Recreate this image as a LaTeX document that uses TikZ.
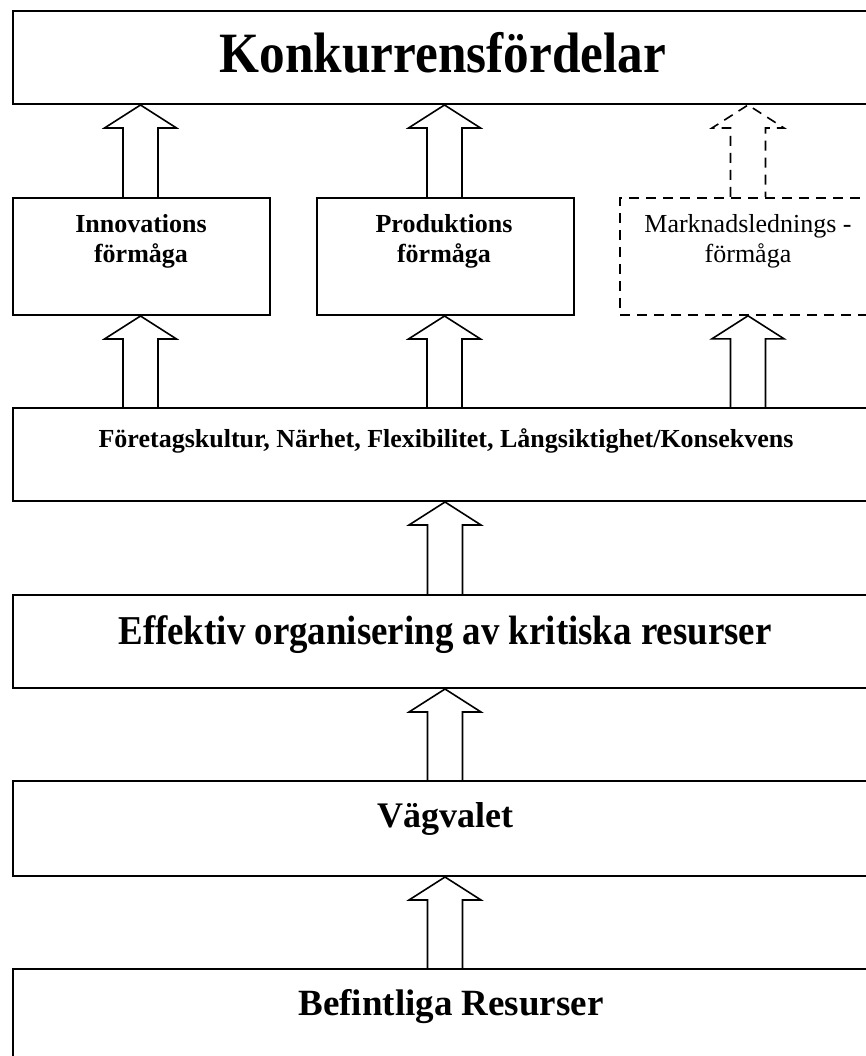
\documentclass[tikz,border=0pt]{standalone}
\usepackage{fontspec}
\setmainfont{Liberation Serif}
\newfontfamily\condfont[FakeStretch=0.9]{Liberation Serif}
\usetikzlibrary{calc}
\tikzset{
  box/.style={draw, line width=2pt, rectangle, inner sep=0pt, anchor=north west},
  dbox/.style={box, line width=1.8pt, dash pattern=on 10pt off 7pt},
  barrow/.style={draw, line width=1.6pt, line join=miter},
  dbarrow/.style={barrow, dash pattern=on 10pt off 7pt},
  lbl/.style={anchor=base, inner sep=0pt},
  small/.style={lbl, align=center, font=\fontsize{26}{29}\selectfont},
}
\newcommand\uparrowblock[4]{%
  \draw[#1] ($(#2 |- #3.north)+(-17.5,0)$) -- ($(#2 |- #4.south)+(-17.5,23)$)
    -- ($(#2 |- #4.south)+(-36,23)$) -- (#2 |- #4.south)
    -- ($(#2 |- #4.south)+(36,23)$) -- ($(#2 |- #4.south)+(17.5,23)$)
    -- ($(#2 |- #3.north)+(17.5,0)$);}
\begin{document}
\begin{tikzpicture}[x=1pt,y=-1pt]
\useasboundingbox (0,0) rectangle (866,1056);
\clip (0,0) rectangle (866,1056);
% boxes
\node[box, minimum width=864pt, minimum height=93pt] (konk) at (12,10) {};
\node[box, minimum width=257pt, minimum height=117pt] (inn) at (12,197) {};
\node[box, minimum width=257pt, minimum height=117pt] (prod) at (316,197) {};
\node[dbox, minimum width=257pt, minimum height=117pt] (mark) at (619,197) {};
\node[box, minimum width=864pt, minimum height=93pt] (fore) at (12,407) {};
\node[box, minimum width=864pt, minimum height=93pt] (eff) at (12,594) {};
\node[box, minimum width=864pt, minimum height=95pt] (vag) at (12,780) {};
\node[box, minimum width=864pt, minimum height=100pt] (bef) at (12,968) {};
% texts
\node[lbl, font=\condfont\bfseries\fontsize{57}{60}\selectfont] (tkonk) at (443,73) {Konkurrensfördelar};
\node[small, font=\bfseries\fontsize{26}{29}\selectfont] (tinn) at (141,262) {Innovations\\förmåga};
\node[small, font=\bfseries\fontsize{26}{29}\selectfont] (tprod) at (444,262) {Produktions\\förmåga};
\node[small] (tmark) at (748,262) {Marknadslednings -\\förmåga};
\node[lbl, font=\bfseries\fontsize{26}{29}\selectfont] (tfore) at (446,447) {Företagskultur, Närhet, Flexibilitet, Långsiktighet/Konsekvens};
\node[lbl, font=\condfont\bfseries\fontsize{41}{44}\selectfont] (teff) at (445,644) {Effektiv organisering av kritiska resurser};
\node[lbl, font=\bfseries\fontsize{36}{40}\selectfont] (tvag) at (445,827) {Vägvalet};
\node[lbl, font=\bfseries\fontsize{37}{40}\selectfont] (tbef) at (451,1015) {Befintliga Resurser};
% arrow axes
\coordinate (xa) at (140.5,0);
\coordinate (xb) at (444.5,0);
\coordinate (xc) at (748,0);
\coordinate (xm) at (445,0);
% arrows
\uparrowblock{barrow}{xa}{inn}{konk}
\uparrowblock{barrow}{xb}{prod}{konk}
\uparrowblock{dbarrow}{xc}{mark}{konk}
\uparrowblock{barrow}{xa}{fore}{inn}
\uparrowblock{barrow}{xb}{fore}{prod}
\uparrowblock{barrow}{xc}{fore}{mark}
\uparrowblock{barrow}{xm}{eff}{fore}
\uparrowblock{barrow}{xm}{vag}{eff}
\uparrowblock{barrow}{xm}{bef}{vag}
\end{tikzpicture}
\end{document}
